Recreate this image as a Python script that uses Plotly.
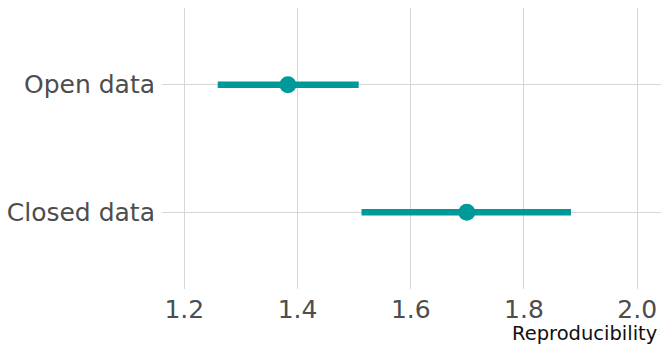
import plotly.graph_objects as go

# Estimates with interval bounds
groups = ["Closed data", "Open data"]
estimate = [1.699, 1.383]
lower = [1.513, 1.259]
upper = [1.883, 1.508]

teal = "#009999"

fig = go.Figure()
fig.add_trace(go.Scatter(
    x=estimate,
    y=groups,
    mode="markers",
    marker=dict(color=teal, size=17),
    error_x=dict(
        type="data",
        symmetric=False,
        array=[u - e for u, e in zip(upper, estimate)],
        arrayminus=[e - l for e, l in zip(estimate, lower)],
        color=teal,
        thickness=6.5,
        width=0,
    ),
    showlegend=False,
))

fig.update_layout(
    width=661,
    height=345,
    margin=dict(l=162, r=0, t=8, b=56),
    paper_bgcolor="white",
    plot_bgcolor="white",
    font=dict(family="DejaVu Sans", color="#4d4d4d"),
    xaxis=dict(
        range=[1.1606, 2.042],
        tickvals=[1.2, 1.4, 1.6, 1.8, 2.0],
        ticktext=["1.2", "1.4", "1.6", "1.8", "2.0"],
        showgrid=True,
        gridcolor="#d6d6d6",
        gridwidth=1,
        zeroline=False,
        showline=False,
        ticks="",
        ticklabelstandoff=3,
        tickfont=dict(size=25, color="#4d4d4d"),
    ),
    yaxis=dict(
        type="category",
        categoryorder="array",
        categoryarray=groups,
        range=[-0.6, 1.6],
        showgrid=True,
        gridcolor="#d6d6d6",
        gridwidth=1,
        zeroline=False,
        showline=False,
        ticks="",
        ticklabelstandoff=6,
        tickfont=dict(size=25, color="#4d4d4d"),
    ),
    annotations=[dict(
        text="Reproducibility",
        xref="paper", yref="paper",
        x=1, y=0,
        xanchor="right", yanchor="top",
        xshift=-2,
        yshift=-31,
        showarrow=False,
        font=dict(size=19.5, color="#111111", family="DejaVu Sans"),
    )],
)

fig.write_html("out.html")
